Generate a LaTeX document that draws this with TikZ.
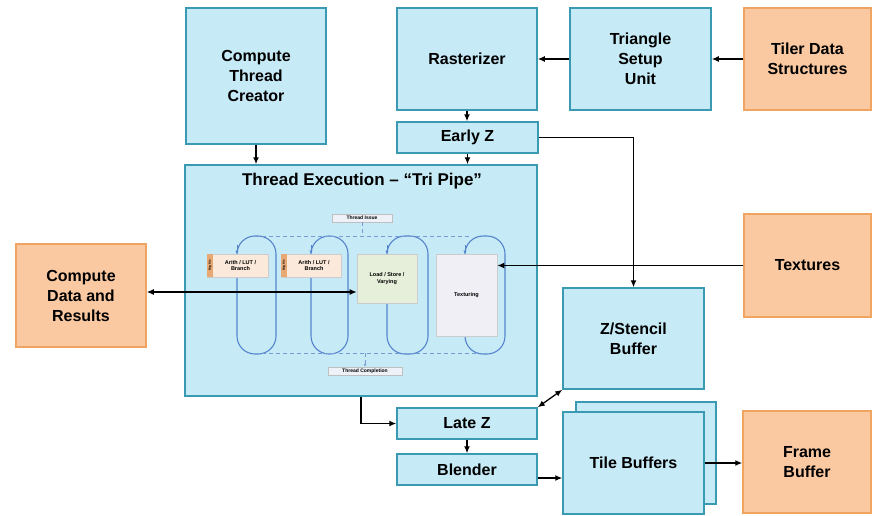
\documentclass[tikz,border=0pt]{standalone}
\usepackage{fontspec}
\setmainfont{Liberation Sans}
\usetikzlibrary{arrows.meta}
\definecolor{bfill}{HTML}{C6EAF6}
\definecolor{bdraw}{HTML}{3A9AB2}
\definecolor{ofill}{HTML}{FAC9A2}
\definecolor{odraw}{HTML}{F0A462}
\definecolor{loopc}{HTML}{5584CC}
\definecolor{arfill}{HTML}{FBEADB}
\definecolor{regc}{HTML}{E8A873}
\definecolor{lsfill}{HTML}{E6EFDA}
\definecolor{txfill}{HTML}{F1EFF6}
\definecolor{lblfill}{HTML}{EEF2F8}
\begin{document}
\begin{tikzpicture}[x=1pt,y=-1pt,
  box/.style={draw=bdraw,fill=bfill,line width=1.5pt,align=center,
    font=\fontsize{16}{20}\selectfont\bfseries,inner sep=0pt},
  obox/.style={draw=odraw,fill=ofill,line width=1.5pt,align=center,
    font=\fontsize{16}{20}\selectfont\bfseries,inner sep=0pt},
  arr/.style={line width=1.3pt,-{Latex[length=7pt,width=6pt]}},
  dbl/.style={line width=1.3pt,{Latex[length=7pt,width=6pt]}-{Latex[length=7pt,width=6pt]}},
  loopline/.style={draw=loopc,line width=1.1pt,rounded corners=18pt},
  dashline/.style={draw=loopc!80,line width=0.9pt,dash pattern=on 4pt off 3pt},
  inbox/.style={line width=0.6pt,align=center,inner sep=0pt,
    font=\fontsize{5.5}{6.5}\selectfont\bfseries},
  lbl/.style={draw=black!25,fill=lblfill,line width=0.5pt,inner sep=0pt,
    font=\fontsize{5}{5}\selectfont\bfseries},
  sz/.style 2 args={minimum width=#1pt,minimum height=#2pt}]
\useasboundingbox (0,0) rectangle (872,515);
% top row
\node[box,sz={140}{136}] (ctc) at (256,76) {Compute\\Thread\\Creator};
\node[box,sz={140}{102}] (ras) at (467,59) {Rasterizer};
\node[box,sz={141}{102}] (tsu) at (640.5,59) {Triangle\\Setup\\Unit};
\node[obox,sz={127}{102}] (tds) at (807.5,59) {Tiler Data\\Structures};
\node[box,sz={141}{31}] (ez) at (467.5,137.5) {Early Z};
% thread execution
\node[box,sz={352}{231}] (te) at (361,280.5) {};
\node[font=\fontsize{17}{20}\selectfont\bfseries] (tetitle) at (362,181) {Thread Execution – “Tri Pipe”};
% side boxes
\node[obox,sz={130}{103}] (cd) at (81,295.5) {Compute\\Data and\\Results};
\node[obox,sz={127}{103}] (tex) at (807.5,265.5) {Textures};
\node[box,sz={141}{101}] (zs) at (633.5,338.5) {Z/Stencil\\Buffer};
\node[box,sz={140}{31}] (lz) at (467,423.5) {Late Z};
\node[box,sz={140}{31}] (bl) at (467,469.5) {Blender};
\node[box,sz={140}{102}] (tbb) at (646,453) {};
\node[box,sz={141}{102}] (tb) at (633.5,463) {Tile Buffers};
\node[obox,sz={128}{102}] (fb) at (807,462) {Frame\\Buffer};
% inner tri pipe
\draw[loopline] (237,236) rectangle (276,354);
\draw[loopline] (311,236) rectangle (348,354);
\draw[loopline] (387,236) rectangle (428,354);
\draw[loopline] (465,236) rectangle (505,354);
\draw[dashline] (255,236) -- (470,236);
\draw[dashline] (262,353) -- (478,353);
\node[lbl,minimum width=60pt,minimum height=8pt] (ti) at (362,218) {Thread Issue};
\node[lbl,minimum width=74pt,minimum height=8pt] (tc) at (365,371) {Thread Completion};
\draw[dashline] (ti.south) -- (ti.south |- 0,236);
\draw[dashline,-{Latex[length=3pt,width=3pt]}] (tc.north |- 0,353) -- (tc.north);
\node[inbox,draw=black!20,fill=arfill,sz={61}{23}] (a1) at (237.5,265.5) {\hspace*{6pt}Arith / LUT /\\\hspace*{6pt}Branch};
\node[inbox,draw=black!20,fill=arfill,sz={60}{23}] (a2) at (311,265.5) {\hspace*{6pt}Arith / LUT /\\\hspace*{6pt}Branch};
\node[inbox,fill=regc,sz={6}{23},anchor=west,font=\fontsize{3}{3}\selectfont\bfseries] (r1) at (a1.west) {\rotatebox{90}{Reg file}};
\node[inbox,fill=regc,sz={6}{23},anchor=west,font=\fontsize{3}{3}\selectfont\bfseries] (r2) at (a2.west) {\rotatebox{90}{Reg file}};
\node[inbox,draw=black!20,fill=lsfill,sz={60}{49}] (ls) at (387,278.5) {Load / Store /\\Varying};
\node[inbox,draw=black!20,fill=txfill,sz={61}{82}] (tx) at (466.5,295) {Texturing};
\draw[loopc,line width=1pt,-{Latex[length=3.5pt,width=3.5pt]}] (237,245) -- (237,254);
\draw[loopc,line width=1pt,-{Latex[length=3.5pt,width=3.5pt]}] (311,245) -- (311,254);
\draw[loopc,line width=1pt,-{Latex[length=3.5pt,width=3.5pt]}] (387,245) -- (387,254);
\draw[loopc,line width=1pt,-{Latex[length=3.5pt,width=3.5pt]}] (465,245) -- (465,254);
% connectors
\draw[arr] (tds.west) -- (tsu.east);
\draw[arr] (tsu.west) -- (ras.east);
\draw[arr] (ras.south) -- (ras.south |- ez.north);
\draw[arr] (ez.south) -- (ez.south |- te.north);
\draw[arr] (ctc.south) -- (ctc.south |- te.north);
\draw[arr] (ez.east) -| (zs.north);
\draw[arr] (tex.west) -- (tex.west -| tx.east);
\draw[dbl] ([yshift=3.5pt]cd.east) -- ([yshift=3.5pt]cd.east -| ls.west);
\draw[arr] (te.south) |- (lz.west);
\draw[dbl] (lz.north east) -- (zs.south west);
\draw[arr] (lz.south) -- (bl.north);
\draw[arr] ([yshift=-8.5pt]bl.east) -- ([yshift=-8.5pt]bl.east -| tb.west);
\draw[arr] (tb.east) -- (tb.east -| fb.west);
\end{tikzpicture}
\end{document}
